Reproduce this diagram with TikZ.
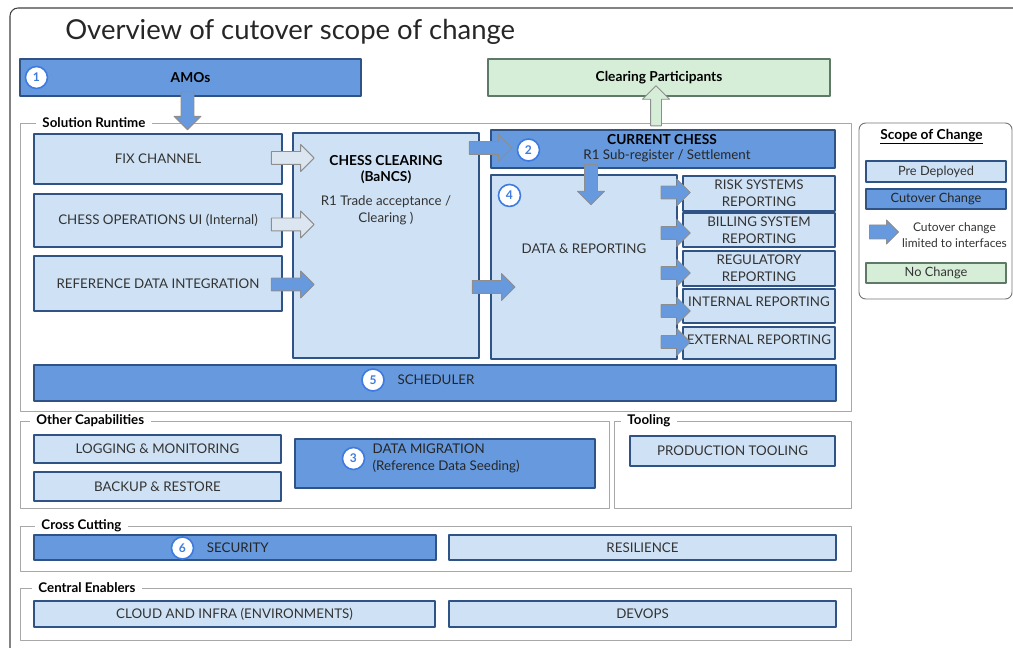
\documentclass[tikz,border=0pt]{standalone}
\usepackage{fontspec}
\setmainfont{Lato}
\usetikzlibrary{positioning,calc,shapes.arrows}
\definecolor{midblue}{HTML}{6699DD}
\definecolor{paleblue}{HTML}{CFE2F5}
\definecolor{palegreen}{HTML}{D6EED7}
\definecolor{greenedge}{HTML}{5E7A66}
\definecolor{edgeblue}{HTML}{2F5385}
\definecolor{ringblue}{HTML}{3D7BE0}
\definecolor{grpgray}{HTML}{A8A8A8}
\definecolor{arrgray}{HTML}{8E8E8E}
\definecolor{lightarr}{HTML}{DCE6F1}
\definecolor{txtgray}{HTML}{333333}
\begin{document}
\begin{tikzpicture}[x=0.75pt, y=-0.75pt, line join=round, line cap=round,
  font=\fontsize{10}{12.5}\selectfont, text=txtgray,
  sz/.style 2 args={minimum width=#1*0.75pt, minimum height=#2*0.75pt},
  box/.style={draw=edgeblue, line width=0.8pt, inner sep=0pt, align=center},
  pre/.style={box, fill=paleblue},
  cut/.style={box, fill=midblue, text=black!85},
  nochg/.style={box, draw=greenedge, fill=palegreen},
  hd/.style={font=\fontsize{10.3}{12.5}\selectfont\bfseries, text=black},
  grp/.style={draw=grpgray, line width=0.7pt, inner sep=0pt},
  grplabel/.style={anchor=west, fill=white, inner xsep=5pt, inner ysep=1pt, font=\fontsize{10}{12}\selectfont\bfseries, text=black},
  num/.style={circle, draw=ringblue, line width=1.2pt, fill=white, minimum size=16.5pt, inner sep=0pt, font=\fontsize{9}{10}\selectfont\bfseries, text=ringblue},
  blk/.style={single arrow, draw=arrgray, line width=0.7pt, inner xsep=0pt, inner ysep=4.5pt, minimum width=0pt, single arrow head extend=5.25pt, minimum height=32pt},
  legfont/.style={font=\fontsize{9.6}{12}\selectfont}]
\useasboundingbox (0,0) rectangle (1013,648);
\clip (0,0) rectangle (1013,648);
\draw[rounded corners=6, draw=black!75, line width=0.8pt] (10,8) rectangle (1040,680);
\node[anchor=base west, inner sep=0pt, font=\fontsize{20.6}{25}\selectfont, text=black!85] (title) at (65,40) {Overview of cutover scope of change};

% top row
\node[cut, hd, sz={341}{37}] (amos) at (190.5,77.5) {AMOs};
\node[num] (n1) at ($(amos.west)+(17,0)$) {1};
\node[nochg, hd, sz={342}{37}] (cp) at (659,77.5) {Clearing Participants};

% solution runtime
\node[grp, sz={831}{288}] (rt) at (435.5,267) {};
\node[grplabel] (rtlab) at ($(rt.north west)+(16,0)$) {Solution Runtime};
\node[pre, sz={248}{50}] (fix) at (158,159) {FIX CHANNEL};
\node[pre, sz={248}{53}] (ops) at (158,220.5) {CHESS OPERATIONS UI (Internal)};
\node[pre, sz={248}{55}] (refd) at (158,283.5) {REFERENCE DATA INTEGRATION};
\node[pre, sz={186}{225}] (clr) at (386,245.5) {};
\node[hd, align=center, anchor=north] (clrhd) at ($(clr.north)+(0,18)$) {CHESS CLEARING\\(BaNCS)};
\node[align=center, below=2pt of clrhd] (clrsub) {R1 Trade acceptance /\\Clearing )};
\node[cut, sz={344}{38}] (cur) at (663,149) {};
\node[hd] (curhd) at ($(cur.center)+(-1,-9)$) {CURRENT CHESS};
\node[text=black!85] (cursub) at ($(cur.center)+(4,7)$) {R1 Sub-register / Settlement};
\node[num] (n2) at ($(cur.west)+(38,1)$) {2};
\node[pre, sz={186}{184}] (dr) at (584,267) {};
\node (drtxt) at ($(dr.center)+(0,-18)$) {DATA \& REPORTING};
\node[num] (n4) at ($(dr.north west)+(19,21)$) {4};
\node[pre, sz={152}{35}] (risk) at (759,193.5) {RISK SYSTEMS\\REPORTING};
\node[pre, sz={152}{34}] (bill) at (759,230) {BILLING SYSTEM\\REPORTING};
\node[pre, sz={152}{35}] (reg) at (759,268.5) {REGULATORY\\REPORTING};
\node[pre, sz={152}{34}] (intr) at (759,306) {};
\node (intrtxt) at ($(intr.center)+(0,-4)$) {INTERNAL REPORTING};
\node[pre, sz={152}{32}] (extr) at (759,343) {};
\node (extrtxt) at ($(extr.center)+(0,-3)$) {EXTERNAL REPORTING};
\node[cut, sz={802}{36}] (sched) at (435,383) {};
\node[num] (n5) at ($(sched.center)+(-62,-3)$) {5};
\node[right=6pt of n5, text=black!85] (schedtxt) {SCHEDULER};

% legend
\node[grp, draw=black!55, rounded corners=5, sz={153}{176}] (leg) at (935.5,211) {};
\node[hd] (leghd) at ($(leg.north)+(-4,14)$) {\underline{Scope of Change}};
\node[pre, legfont, sz={140}{21}] (legpre) at (936,171.5) {Pre Deployed};
\node[cut, legfont, sz={140}{20}] (legcut) at (936,199) {Cutover Change};
\node[blk, fill=midblue, inner ysep=4.9pt, single arrow head extend=3.75pt, minimum height=21.75pt] (legarr) at (880.5,232) {};
\node[font=\fontsize{9}{12}\selectfont, align=center, inner sep=2pt, right=0pt of legarr, yshift=-2pt] (legtxt) {Cutover change\\limited to interfaces};
\node[nochg, legfont, sz={140}{20}] (legno) at (936,273) {No Change};

% other capabilities and tooling
\node[grp, sz={589}{87}] (oc) at (314.5,464.5) {};
\node[grplabel] (oclab) at ($(oc.north west)+(10,0)$) {Other Capabilities};
\node[pre, sz={247}{28}] (logm) at (157.5,449) {LOGGING \& MONITORING};
\node[pre, sz={247}{29}] (bkp) at (157.5,486.5) {BACKUP \& RESTORE};
\node[cut, sz={300}{49}] (mig) at (445,463.5) {};
\node[num] (n3) at ($(mig.west)+(59,-5)$) {3};
\node[right=2pt of n3, align=left, text=black!85] (migtxt) {DATA MIGRATION\\(Reference Data Seeding)};
\node[grp, sz={237}{87}] (tl) at (732.5,464.5) {};
\node[grplabel] (tllab) at ($(tl.north west)+(7,0)$) {Tooling};
\node[pre, sz={205}{30}] (prod) at (732.5,451) {PRODUCTION TOOLING};

% cross cutting
\node[grp, sz={831}{45}] (xc) at (435.5,548.5) {};
\node[grplabel] (xclab) at ($(xc.north west)+(15,0)$) {Cross Cutting};
\node[cut, sz={402}{25}] (sec) at (235,547.5) {};
\node[num] (n6) at ($(sec.west)+(149,0.5)$) {6};
\node[right=6pt of n6, text=black!85] (sectxt) {SECURITY};
\node[pre, sz={387}{25}] (res) at (642.5,547.5) {RESILIENCE};

% central enablers
\node[grp, sz={831}{52}] (ce) at (435.5,614) {};
\node[grplabel] (celab) at ($(ce.north west)+(12,0)$) {Central Enablers};
\node[pre, sz={401}{26}] (cloud) at (234.5,614) {CLOUD AND INFRA (ENVIRONMENTS)};
\node[pre, sz={387}{26}] (devops) at (642.5,614) {DEVOPS};

% block arrows
\node[blk, fill=midblue, minimum height=28.5pt, rotate=-90] (a-amos) at ($(amos.south)+(-3,11)$) {};
\node[blk, fill=palegreen, inner ysep=3.75pt, single arrow head extend=6pt, minimum height=30pt, rotate=90] (a-cp) at ($(cp.south)+(-3,12)$) {};
\node[blk, fill=lightarr] (a-fix) at ($(fix.east)+(7,-1)$) {};
\node[blk, fill=lightarr] (a-ops) at ($(ops.east)+(7,4)$) {};
\node[blk, fill=midblue] (a-refd) at ($(refd.east)+(7,1)$) {};
\node[blk, fill=midblue] (a-cur) at ($(cur.west)+(-3,-1)$) {};
\node[blk, fill=midblue] (a-dr) at ($(dr.west)+(0,20)$) {};
\node[blk, fill=midblue, minimum height=30pt, rotate=-90] (a-down) at ($(dr.north)+(7,7)$) {};
\foreach \b/\dy in {risk/-1, bill/3, reg/4.5, intr/5, extr/-1}
  \node[blk, fill=midblue, minimum height=21.75pt] (a-\b) at ($(\b.west)+(-10,\dy)$) {};
\end{tikzpicture}
\end{document}
